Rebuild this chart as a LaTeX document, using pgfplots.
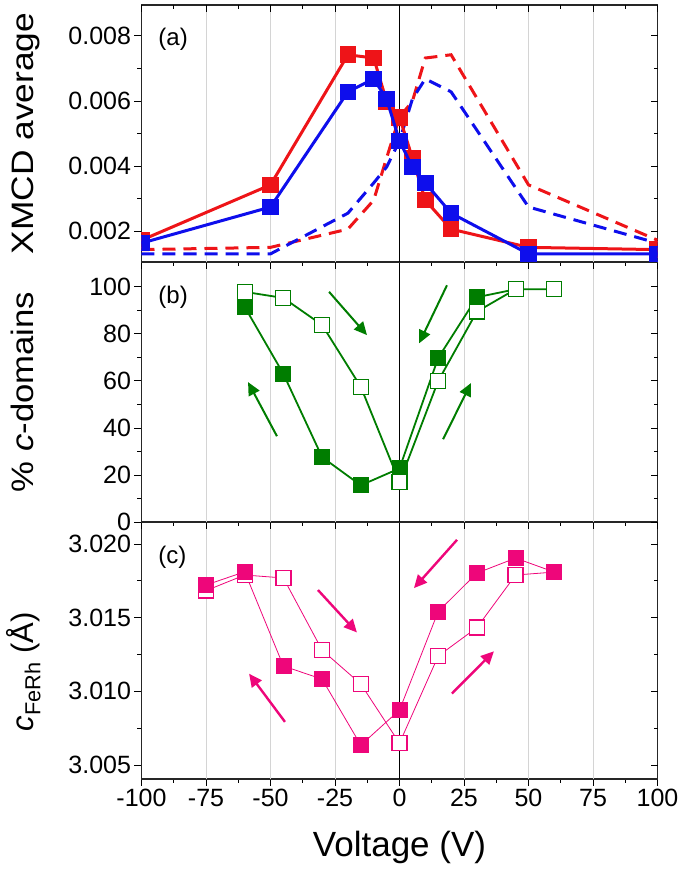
\documentclass[border=0pt]{standalone}
\usepackage{fontspec}
\setmainfont{Liberation Sans}
\usepackage{pgfplots}
\pgfplotsset{compat=1.18}
\usetikzlibrary{arrows.meta}
\definecolor{myred}{RGB}{238,20,24}
\definecolor{myblue}{RGB}{14,14,236}
\definecolor{mygreen}{RGB}{0,125,0}
\definecolor{mypink}{RGB}{238,6,122}
\definecolor{gridgray}{RGB}{212,212,212}
\tikzset{mygrid/.style={gridgray, line width=0.9pt}}
\pgfplotsset{
  panel/.style={
    scale only axis, width=516pt,
    xmin=-100, xmax=100,
    xtick={-100,-75,-50,-25,0,25,50,75,100},
    minor x tick num=1, minor y tick num=1,
    tick align=outside, xtick pos=bottom, ytick pos=left,
    major tick length=7pt, minor tick length=4pt,
    tick style={black, line width=0.9pt},
    axis line style={line width=1.1pt, black!85},
    tick label style={font=\fontsize{25}{30}\selectfont},
    label style={font=\fontsize{31}{36}\selectfont},
    /pgf/number format/assume math mode=true,
    scaled y ticks=false, scaled x ticks=false,
    ylabel style={at={(axis description cs:-0.21,0.5)}, anchor=base, inner sep=0pt},
    clip=false,
  },
  mirror/.style={
    scale only axis, width=516pt,
    xmin=-100, xmax=100,
    xtick={-100,-75,-50,-25,0,25,50,75,100},
    minor x tick num=1, minor y tick num=1,
    tick align=inside, xtick pos=top, ytick pos=right,
    major tick length=7pt, minor tick length=4pt,
    tick style={black, line width=0.9pt},
    xticklabels={}, yticklabels={},
    axis line style={draw=none},
    scaled y ticks=false,
  },
}
\begin{document}
\begin{tikzpicture}
% ---------------- panel (c) ----------------
\begin{axis}[panel, at={(0pt,0pt)}, height=257pt,
  ymin=3.00405, ymax=3.0215,
  ytick={3.005,3.010,3.015,3.020},
  yticklabels={3.005,3.010,3.015,3.020},
  xticklabels={-100,-75,-50,-25,0,25,50,75,100},
  xlabel={Voltage (V)},
  xlabel style={at={(axis description cs:0.5,-0.2996)}, anchor=base, inner sep=0pt, font=\fontsize{35}{40}\selectfont},
  ylabel={\textit{c}\textsubscript{FeRh}~(Å)},
  ylabel style={at={(axis description cs:-0.21,0.418)}},
]
\foreach \xx in {-75,-50,-25,25,50,75}{\edef\tmp{\noexpand\draw[mygrid] (axis cs:\xx,3.00405) -- (axis cs:\xx,3.0215);}\tmp}
\draw[black, line width=1.1pt] (axis cs:0,3.00405) -- (axis cs:0,3.0215);
\addplot[mypink, line width=0.8pt, mark=square*, mark size=7.5pt,
  mark options={fill=white, draw=mypink, line width=1.3pt}]
  coordinates {(-75,3.01684) (-60,3.0179) (-45,3.0177) (-30,3.0128) (-15,3.0105) (0,3.00648) (15,3.0124) (30,3.01433) (45,3.0179) (60,3.0181)};
\addplot[mypink, line width=0.8pt, mark=square*, mark size=7.5pt,
  mark options={fill=mypink, draw=mypink}]
  coordinates {(-75,3.01722) (-60,3.01812) (-45,3.01172) (-30,3.01083) (-15,3.00635) (0,3.00873) (15,3.01542) (30,3.01803) (45,3.01905) (60,3.0181)};
\draw[mypink, line width=2.4pt, -{Triangle[length=13pt,width=12pt]}] (axis cs:-31.6,3.01688) -- (axis cs:-16.5,3.0140);
\draw[mypink, line width=2.4pt, -{Triangle[length=13pt,width=12pt]}] (axis cs:-44.4,3.00793) -- (axis cs:-58.3,3.0112);
\draw[mypink, line width=2.4pt, -{Triangle[length=13pt,width=12pt]}] (axis cs:22.3,3.02029) -- (axis cs:5.6,3.01701);
\draw[mypink, line width=2.4pt, -{Triangle[length=13pt,width=12pt]}] (axis cs:20.3,3.00985) -- (axis cs:36.6,3.01272);
\node[anchor=west, font=\fontsize{24}{28}\selectfont] at (rel axis cs:0.026,0.864) {(c)};
\end{axis}
\begin{axis}[mirror, at={(0pt,0pt)}, height=257pt, ymin=3.00405, ymax=3.0215,
  ytick={3.005,3.010,3.015,3.020}]
\end{axis}
% ---------------- panel (b) ----------------
\begin{axis}[panel, at={(0pt,257pt)}, height=260pt,
  ymin=0, ymax=110.6,
  ytick={0,20,40,60,80,100},
  yticklabels={0,20,40,60,80,100},
  xticklabels={},
  ylabel={\scalebox{1.12}[1]{\%~\textit{c}-domains}},
]
\foreach \xx in {-75,-50,-25,25,50,75}{\edef\tmp{\noexpand\draw[mygrid] (axis cs:\xx,0) -- (axis cs:\xx,110.6);}\tmp}
\draw[black, line width=1.1pt] (axis cs:0,0) -- (axis cs:0,110.6);
\addplot[mygreen, line width=1.8pt, mark=square*, mark size=7.5pt,
  mark options={fill=mygreen, draw=mygreen, line width=1pt}]
  coordinates {(-60,91.5) (-45,63) (-30,27.6) (-15,15.6) (0,22.8) (15,69.8) (30,95.6) (45,99)};
\addplot[mygreen, line width=1.8pt, mark=square*, mark size=7.5pt,
  mark options={fill=white, draw=mygreen, line width=1.2pt}]
  coordinates {(-60,97.9) (-45,95.3) (-30,83.8) (-15,57.5) (0,16.9) (15,60) (30,89.5) (45,99) (60,99)};
\draw[mygreen, line width=2pt, -{Triangle[length=13pt,width=12pt]}] (axis cs:-27.3,97.9) -- (axis cs:-12.6,79.5);
\draw[mygreen, line width=2pt, -{Triangle[length=13pt,width=12pt]}] (axis cs:-47.5,36.5) -- (axis cs:-58.7,59.5);
\draw[mygreen, line width=2pt, -{Triangle[length=13pt,width=12pt]}] (axis cs:18.4,100.7) -- (axis cs:7.6,76);
\draw[mygreen, line width=2pt, -{Triangle[length=13pt,width=12pt]}] (axis cs:16.9,35.2) -- (axis cs:27.7,59.1);
\node[anchor=west, font=\fontsize{24}{28}\selectfont] at (rel axis cs:0.026,0.865) {(b)};
\end{axis}
\begin{axis}[mirror, at={(0pt,257pt)}, height=260pt, ymin=0, ymax=110.6,
  ytick={0,20,40,60,80,100}]
\end{axis}
% ---------------- panel (a) ----------------
\begin{axis}[panel, at={(0pt,517pt)}, height=257pt,
  ymin=0.00105, ymax=0.00895,
  ytick={0.002,0.004,0.006,0.008},
  yticklabels={0.002,0.004,0.006,0.008},
  xticklabels={},
  ylabel={\scalebox{1.14}[1]{XMCD average}},
  clip=true, clip marker paths=true,
]
\foreach \xx in {-75,-50,-25,25,50,75}{\edef\tmp{\noexpand\draw[mygrid] (axis cs:\xx,0.00105) -- (axis cs:\xx,0.00895);}\tmp}
\draw[black, line width=1.1pt] (axis cs:0,0.00105) -- (axis cs:0,0.00895);
\addplot[myred, line width=3pt, dash pattern=on 13pt off 8pt]
  coordinates {(-100,0.00143) (-50,0.0015) (-20,0.00206) (-10,0.00295) (-5,0.00425) (0,0.0055) (5,0.00599) (10,0.00732) (20,0.00742) (50,0.00342) (100,0.00172)};
\addplot[myblue, line width=3pt, dash pattern=on 13pt off 8pt]
  coordinates {(-100,0.0013) (-50,0.0013) (-20,0.00255) (-10,0.00348) (-5,0.00397) (0,0.00477) (5,0.00606) (10,0.00668) (20,0.00628) (50,0.00274) (100,0.00163)};
\addplot[myred, line width=3pt, mark=square*, mark size=7.8pt, mark options={solid, fill=myred, draw=myred, line width=0pt}]
  coordinates {(-100,0.00172) (-50,0.00342) (-20,0.00742) (-10,0.00732) (-5,0.00599) (0,0.0055) (5,0.00425) (10,0.00295) (20,0.00206) (50,0.0015) (100,0.00143)};
\addplot[myblue, line width=3pt, mark=square*, mark size=7.8pt, mark options={solid, fill=myblue, draw=myblue, line width=0pt}]
  coordinates {(-100,0.00163) (-50,0.00274) (-20,0.00628) (-10,0.00668) (-5,0.00606) (0,0.00477) (5,0.00397) (10,0.00348) (20,0.00255) (50,0.0013) (100,0.0013)};
\node[anchor=west, font=\fontsize{24}{28}\selectfont] at (rel axis cs:0.026,0.868) {(a)};
\end{axis}
\begin{axis}[mirror, at={(0pt,517pt)}, height=257pt, ymin=0.00105, ymax=0.00895,
  ytick={0.002,0.004,0.006,0.008}]
\end{axis}
\pgfresetboundingbox
\path[use as bounding box] (-141.5pt,-90pt) rectangle (543.5pt,779pt);
\end{tikzpicture}
\end{document}
